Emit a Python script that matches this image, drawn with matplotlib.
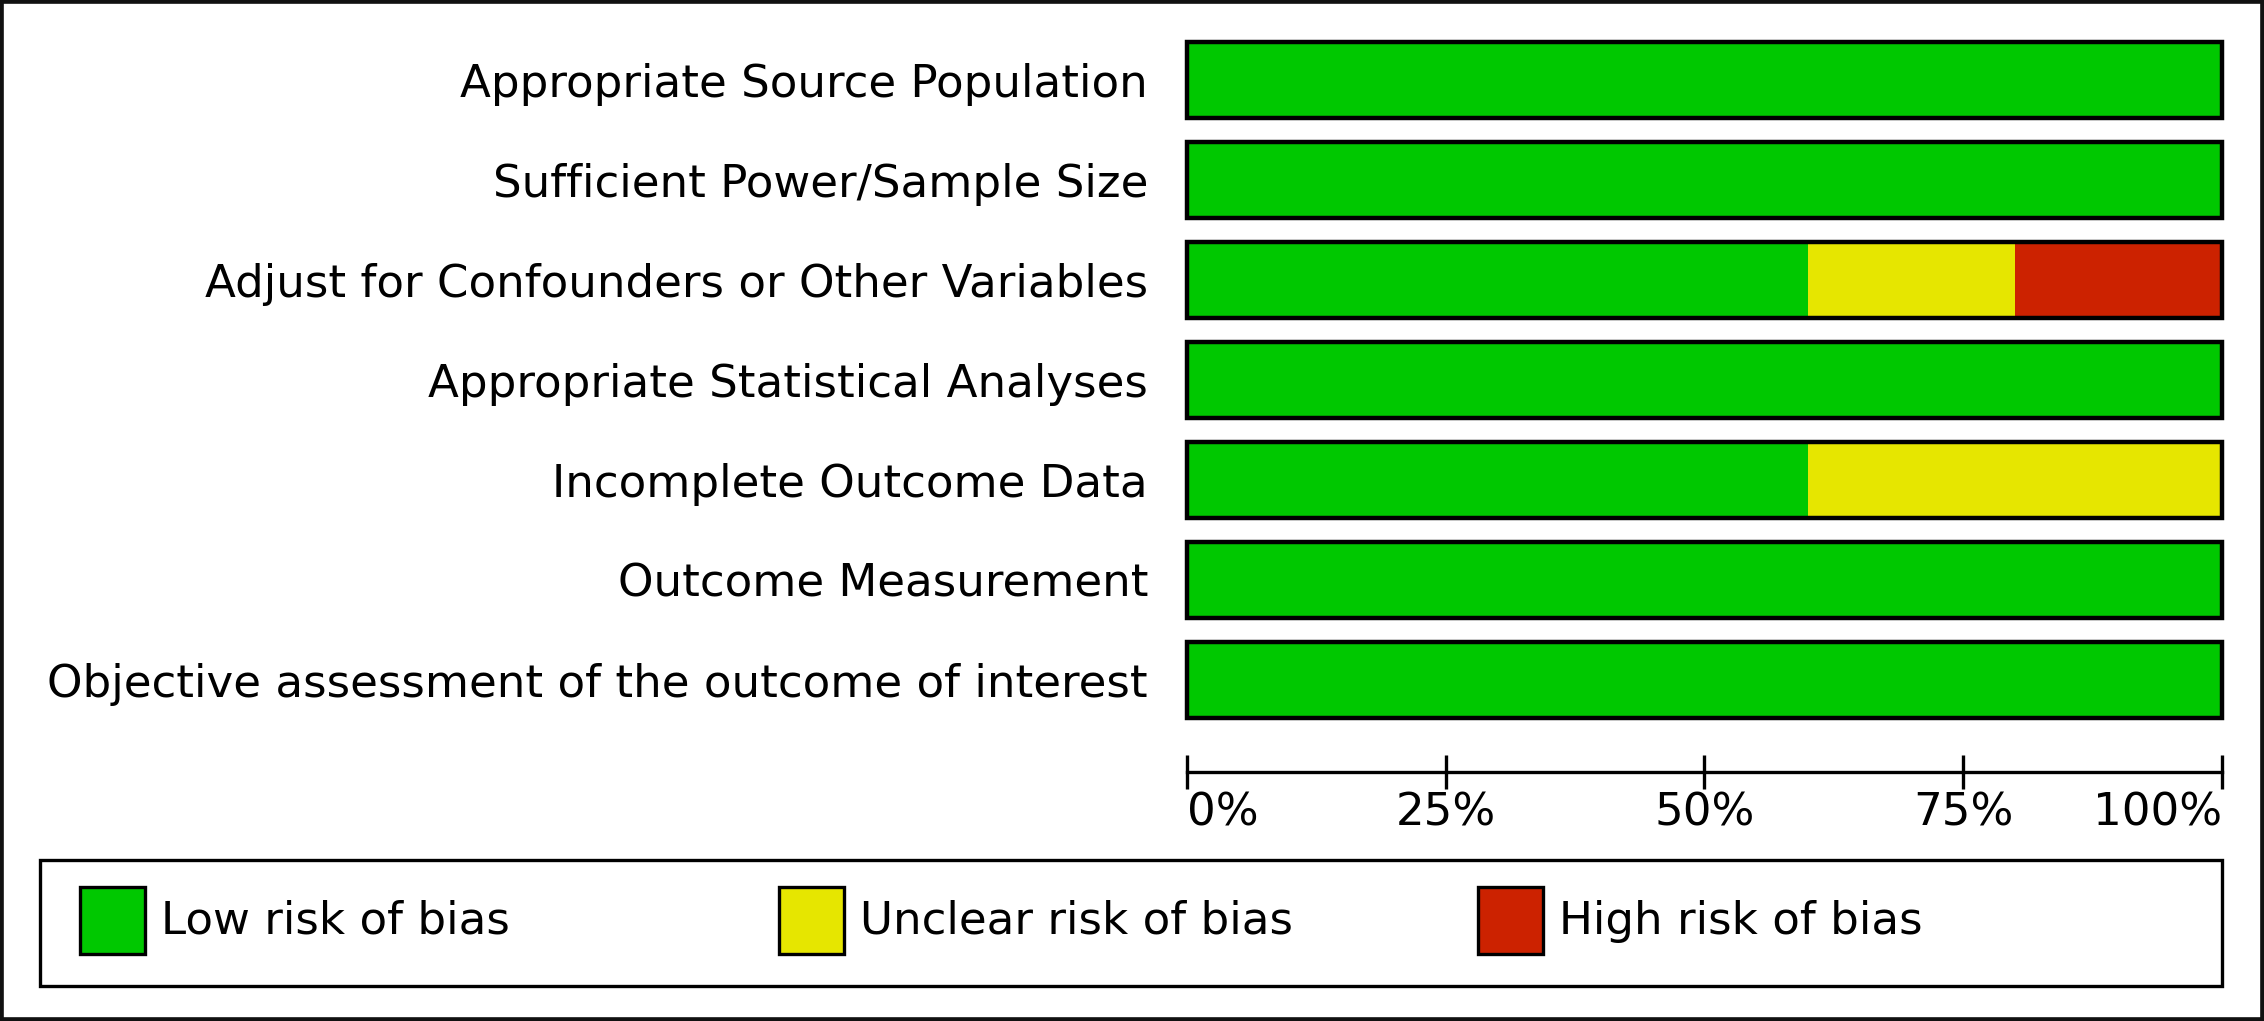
import matplotlib.pyplot as plt
from matplotlib.patches import Rectangle
import numpy as np

# risk of bias summary (percent of studies)
domains = [
    'Appropriate Source Population',
    'Sufficient Power/Sample Size',
    'Adjust for Confounders or Other Variables',
    'Appropriate Statistical Analyses',
    'Incomplete Outcome Data',
    'Outcome Measurement',
    'Objective assessment of the outcome of interest',
]
low_risk = [100, 100, 60, 100, 60, 100, 100]
unclear_risk = [0, 0, 20, 0, 40, 0, 0]
high_risk = [0, 0, 20, 0, 0, 0, 0]

risk_labels = ['Low risk of bias', 'Unclear risk of bias', 'High risk of bias']
risk_colors = ['#00c800', '#e6e600', '#cc2200']
x_ticks = [0, 25, 50, 75, 100]
x_tick_labels = ['0%', '25%', '50%', '75%', '100%']

W, H = 2264, 1021
FS = 32.5
plt.rcParams['font.family'] = 'DejaVu Sans'

fig = plt.figure(figsize=(W / 100, H / 100), dpi=100)
ax = fig.add_axes([1187 / W, 1 - 729.5 / H, 1035 / W, 700 / H])

y = np.arange(len(domains))
left = np.zeros(len(domains))
for vals, col in zip([low_risk, unclear_risk, high_risk], risk_colors):
    ax.barh(y, vals, left=left, height=0.76, color=col, edgecolor='none')
    left += np.array(vals)
# black outline round each row
ax.barh(y, left, height=0.76, fill=False, edgecolor='black', linewidth=3.2, clip_on=False)

ax.set_xlim(0, 100)
ax.set_ylim(len(domains) - 0.5, -0.5)
ax.set_yticks(y, domains, fontsize=FS)
ax.tick_params(axis='y', length=0, pad=28)

for s in ['left', 'right', 'top']:
    ax.spines[s].set_visible(False)
ax.spines['bottom'].set_position(('outward', 30.6))
ax.spines['bottom'].set_linewidth(2.4)
ax.set_xticks(x_ticks, x_tick_labels, fontsize=FS)
ax.tick_params(axis='x', direction='inout', length=25, width=2.4, pad=1.5)
xlabs = ax.get_xticklabels()
xlabs[0].set_ha('left')
xlabs[-1].set_ha('right')

# legend box
fig.add_artist(Rectangle((40 / W, 1 - 986 / H), 2182 / W, 126 / H, transform=fig.transFigure,
                         fill=False, edgecolor='black', linewidth=2.4))
for i, (lab, col) in enumerate(zip(risk_labels, risk_colors)):
    x0 = 80 + 699 * i
    fig.add_artist(Rectangle((x0 / W, 1 - 954 / H), 65 / W, 67 / H, transform=fig.transFigure,
                             facecolor=col, edgecolor='black', linewidth=2.4))
    fig.text((x0 + 81) / W, 1 - 921 / H, lab, fontsize=FS, va='center', ha='left')

# outer frame
fig.add_artist(Rectangle((0, 0), 1, 1, transform=fig.transFigure, fill=False,
                         edgecolor='#111111', linewidth=5.5))

fig.savefig('out.png', dpi=100)
